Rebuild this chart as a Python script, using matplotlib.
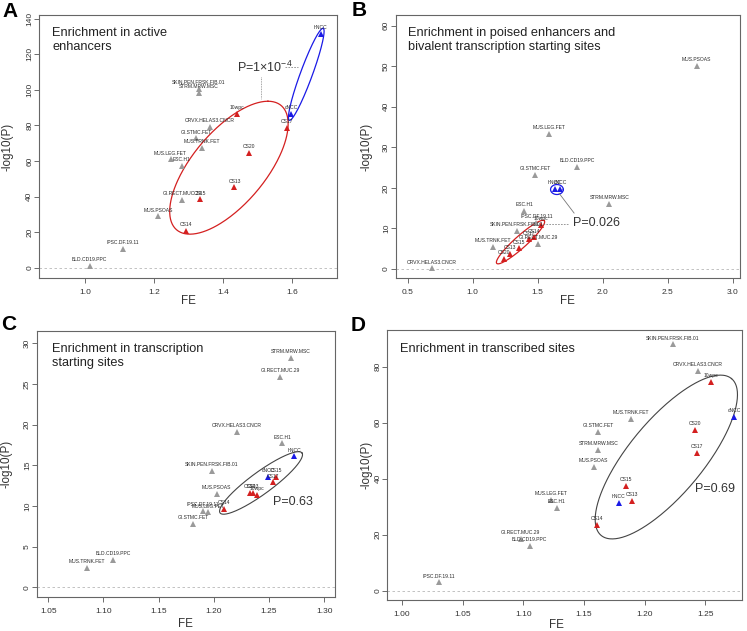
import matplotlib as mpl
import matplotlib.pyplot as plt
import numpy as np
from matplotlib.ticker import FormatStrFormatter

mpl.rcParams['font.family'] = ['Liberation Sans', 'DejaVu Sans']
mpl.rcParams['mathtext.fontset'] = 'custom'
mpl.rcParams['mathtext.rm'] = 'Liberation Sans'

# ---------- data ----------
a_names = ['hNCC', 'cNCC', 'CS17', '10wpc', 'CS20', 'CS13', 'CS15', 'CS14',
           'SKIN.PEN.FRSK.FIB.01', 'STRM.MRW.MSC', 'CRVX.HELAS3.CNCR', 'GI.STMC.FET',
           'MUS.TRNK.FET', 'MUS.LEG.FET', 'ESC.H1', 'GI.RECT.MUC.29', 'MUS.PSOAS',
           'IPSC.DF.19.11', 'BLD.CD19.PPC']
a_fe = [1.683, 1.597, 1.586, 1.441, 1.476, 1.433, 1.333, 1.294, 1.330, 1.330, 1.362,
        1.323, 1.339, 1.248, 1.281, 1.281, 1.213, 1.110, 1.014]
a_logp = [131.6, 86.3, 78.6, 86.7, 64.8, 45.2, 38.5, 20.9, 100.5, 98.3, 79.2, 72.8,
          67.5, 61.0, 57.4, 38.1, 29.0, 10.8, 1.1]

b_names = ['MUS.PSOAS', 'MUS.LEG.FET', 'BLD.CD19.PPC', 'GI.STMC.FET', 'hNCC', 'cNCC',
           'STRM.MRW.MSC', 'ESC.H1', 'IPSC.DF.19.11', '10wpc', 'SKIN.PEN.FRSK.FIB.01',
           'CS14', 'CS17', 'GI.RECT.MUC.29', 'CS15', 'MUS.TRNK.FET', 'CS13', 'CS20',
           'CRVX.HELAS3.CNCR']
b_fe = [2.723, 1.589, 1.805, 1.479, 1.633, 1.672, 2.051, 1.397, 1.490, 1.523, 1.341,
        1.471, 1.433, 1.505, 1.359, 1.159, 1.287, 1.243, 0.685]
b_logp = [50.1, 33.3, 25.2, 23.2, 19.7, 19.7, 16.0, 14.3, 11.3, 10.8, 9.4, 7.8, 7.3,
          6.2, 5.1, 5.5, 3.7, 2.6, 0.2]

c_names = ['STRM.MRW.MSC', 'GI.RECT.MUC.29', 'CRVX.HELAS3.CNCR', 'ESC.H1', 'hNCC',
           'SKIN.PEN.FRSK.FIB.01', 'cNCC', 'CS15', 'CS17', 'MUS.PSOAS', 'CS20', 'CS13',
           '10wpc', 'CS14', 'IPSC.DF.19.11', 'MUS.LEG.FET', 'GI.STMC.FET',
           'BLD.CD19.PPC', 'MUS.TRNK.FET']
c_fe = [1.2698, 1.2599, 1.2207, 1.2620, 1.2728, 1.1980, 1.2493, 1.2560, 1.2538, 1.2025,
        1.2327, 1.2357, 1.2388, 1.2091, 1.1899, 1.1949, 1.1813, 1.1089, 1.0853]
c_logp = [28.2, 25.9, 19.1, 17.7, 16.1, 14.3, 13.6, 13.6, 12.9, 11.5, 11.6, 11.6, 11.35,
          9.6, 9.4, 9.2, 7.8, 3.36, 2.4]

d_names = ['SKIN.PEN.FRSK.FIB.01', 'CRVX.HELAS3.CNCR', '10wpc', 'cNCC', 'MUS.TRNK.FET',
           'GI.STMC.FET', 'CS20', 'STRM.MRW.MSC', 'CS17', 'MUS.PSOAS', 'CS15', 'CS13',
           'hNCC', 'CS14', 'MUS.LEG.FET', 'ESC.H1', 'GI.RECT.MUC.29', 'BLD.CD19.PPC',
           'IPSC.DF.19.11']
d_fe = [1.2234, 1.2440, 1.2544, 1.2740, 1.1890, 1.1616, 1.2412, 1.1620, 1.2432, 1.1580,
        1.1847, 1.1896, 1.1786, 1.1608, 1.1230, 1.1278, 1.0980, 1.1052, 1.0302]
d_logp = [88.0, 78.5, 74.6, 62.1, 61.3, 56.8, 57.4, 50.2, 49.3, 44.3, 37.5, 32.0, 31.4,
          23.5, 32.4, 29.6, 18.5, 16.0, 3.0]

RED = '#d42020'
BLUE = '#1a1ae6'
GRAY = '#9a9a9a'
W, H = 747, 631

fig = plt.figure(figsize=(W / 100, H / 100), dpi=100)


def px_axes(l, t, r, b):
    return fig.add_axes([l / W, 1 - b / H, (r - l) / W, (b - t) / H])


def colour(name):
    if 'NCC' in name:
        return BLUE
    if name.startswith('CS') or name == '10wpc':
        return RED
    return GRAY


def ellipse(ax, c, u, v, color, lw=0.9):
    t = np.linspace(0, 2 * np.pi, 300)
    ax.plot(c[0] + u[0] * np.cos(t) + v[0] * np.sin(t),
            c[1] + u[1] * np.cos(t) + v[1] * np.sin(t), color=color, lw=lw)


def panel(ax, names, fe, logp, xlim, ylim, xticks, yticks, xfmt, title, tx, letter):
    for n, x, y in zip(names, fe, logp):
        ax.plot(x, y, marker='^', ms=4, mew=0, color=colour(n), ls='none', zorder=3)
        ax.annotate(n, (x, y), xytext=(0, 4.5), textcoords='offset points',
                    ha='center', va='center', fontsize=3.6, color='#2a2a2a', zorder=4)
    ax.axhline(0, color='#b8b8b8', lw=0.6, ls=(0, (3, 3)), zorder=1)
    ax.set(xlim=xlim, ylim=ylim, xticks=xticks, yticks=yticks)
    ax.xaxis.set_major_formatter(FormatStrFormatter(xfmt))
    ax.tick_params(axis='both', direction='out', length=3.6, width=0.6,
                   color='#555555', labelsize=6, labelcolor='#333333')
    ax.tick_params(axis='x', pad=4.5)
    ax.tick_params(axis='y', pad=0.5, labelrotation=90)
    for lab in ax.get_yticklabels():
        lab.set_va('center')
    for s in ax.spines.values():
        s.set_color('#666666')
        s.set_linewidth(0.8)
    ax.text(tx, 0.953, title, transform=ax.transAxes, ha='left', va='top',
            fontsize=9.2, linespacing=1.22, color='#222222')
    ax.set_xlabel('FE', fontsize=8.4, color='#333333')
    ax.set_ylabel('-log10(P)', fontsize=8.4, color='#333333', va='center')
    fig.text(letter[1] / W, 1 - letter[2] / H, letter[0], fontsize=15,
             fontweight='bold', ha='left', va='baseline')


# ---------- A ----------
ax = px_axes(39, 15, 337, 278)
panel(ax, a_names, a_fe, a_logp, (0.867, 1.73), (-5.6, 142), [1.0, 1.2, 1.4, 1.6],
      range(0, 141, 20), '%.1f', 'Enrichment in active\nenhancers', 0.045, ('A', 2, 17))
ellipse(ax, (1.417, 56.3), (0.113, 37.3), (0.129, 0), RED)
ellipse(ax, (1.641, 108.7), (0.049, 25.8), (0.0162, -1.18), BLUE)
ax.plot([1.580, 1.617], [112.6, 112.6], color='#888888', lw=0.6, ls=(0, (2, 1.5)))
ax.plot([1.509, 1.509], [107.0, 94.7], color='#888888', lw=0.6, ls=(0, (1, 1)))
ax.text(1.441, 112.6, r'P=1×10$\mathregular{^{-4}}$', fontsize=9, ha='left', va='center',
        color='#333333')
ax.yaxis.set_label_coords(-0.107, 0.5)
ax.xaxis.set_label_coords(0.5, -0.066)

# ---------- B ----------
ax = px_axes(395.7, 15, 740, 278)
panel(ax, b_names, b_fe, b_logp, (0.408, 3.056), (-2.2, 62.6), [0.5, 1.0, 1.5, 2.0, 2.5, 3.0],
      range(0, 61, 10), '%.1f',
      'Enrichment in poised enhancers and\nbivalent transcription starting sites', 0.037,
      ('B', 352, 16))
ellipse(ax, (1.368, 6.65), (0.183, 5.25), (0.031, -1.11), RED)
ellipse(ax, (1.648, 19.6), (0.049, 0), (0, 1.23), BLUE)
ax.plot([1.664, 1.780], [18.7, 13.8], color='#777777', lw=0.6)
ax.plot([1.541, 1.731], [11.1, 11.1], color='#888888', lw=0.6, ls=(0, (2, 1.5)))
ax.text(1.772, 11.4, 'P=0.026', fontsize=9, ha='left', va='center', color='#333333')
ax.yaxis.set_label_coords(-0.086, 0.5)
ax.xaxis.set_label_coords(0.5, -0.066)

# ---------- C ----------
ax = px_axes(36.7, 330.7, 335, 597)
panel(ax, c_names, c_fe, c_logp, (1.0395, 1.3097), (-1.2, 31.56),
      [1.05, 1.10, 1.15, 1.20, 1.25, 1.30], range(0, 31, 5), '%.2f',
      'Enrichment in transcription\nstarting sites', 0.05, ('C', 1, 330))
ellipse(ax, (1.2427, 12.83), (0.0371, 3.69), (0.0059, -1.09), '#444444', lw=0.8)
ax.text(1.2538, 10.45, 'P=0.63', fontsize=9, ha='left', va='center', color='#333333')
ax.yaxis.set_label_coords(-0.10, 0.5)
ax.xaxis.set_label_coords(0.5, -0.080)

# ---------- D ----------
ax = px_axes(387.3, 330, 741.7, 600)
panel(ax, d_names, d_fe, d_logp, (0.988, 1.280), (-3.3, 93.1),
      [1.00, 1.05, 1.10, 1.15, 1.20, 1.25], range(0, 81, 20), '%.2f',
      'Enrichment in transcribed sites', 0.035, ('D', 351, 331))
ellipse(ax, (1.2179, 47.75), (0.0537, 28.0), (0.0235, -8.43), '#444444', lw=0.8)
ax.text(1.2412, 36.3, 'P=0.69', fontsize=9, ha='left', va='center', color='#333333')
ax.yaxis.set_label_coords(-0.06, 0.5)
ax.xaxis.set_label_coords(0.477, -0.070)

fig.savefig('out.png', dpi=100)
